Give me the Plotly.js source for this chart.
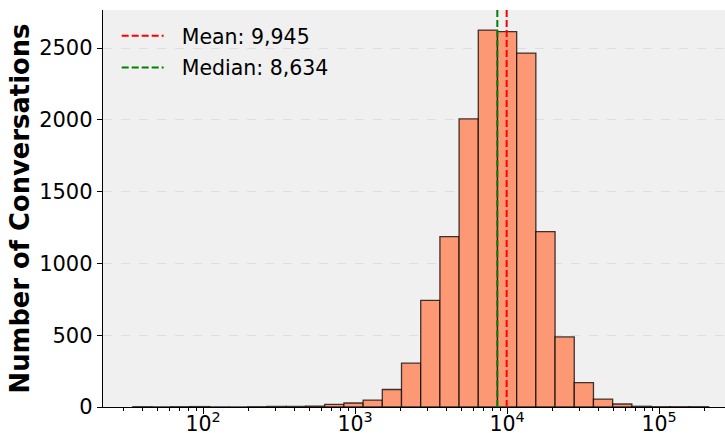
<!DOCTYPE html>
<html>
<head>
<meta charset="utf-8">
<script src="https://cdn.plot.ly/plotly-3.0.1.min.js"></script>
<style>html,body{margin:0;padding:0;background:#fff;}#chart{width:725px;height:433px;}</style>
</head>
<body>
<div id="chart"></div>
<script>
// Histogram of conversation lengths (log-spaced bins)
const binMin = 34.5;        // lower edge of first bin
const binMax = 212000;      // upper edge of last bin
const counts = [2, 1, 2, 3, 1, 0, 2, 4, 4, 6, 18, 28, 48, 122, 305, 743, 1187, 2007, 2625, 2615, 2465, 1222, 488, 170, 55, 21, 5, 2, 2, 2];
const meanValue = 9945;
const medianValue = 8634;
const yTickVals = [0, 500, 1000, 1500, 2000, 2500];
const xMajorDecades = [2, 3, 4, 5];
const yTop = 2765;

const nBins = counts.length;
const lo = Math.log10(binMin), hi = Math.log10(binMax);
const step = (hi - lo) / nBins;
const centers = counts.map((_, i) => lo + step * (i + 0.5));

const minorVals = [];
for (let d = 1; d <= 5; d++) for (let k = 2; k <= 9; k++) minorVals.push(d + Math.log10(k));

const fmt = v => v.toLocaleString('en-US');

const traces = [
  {
    type: 'bar', x: centers, y: counts, width: step,
    marker: {color: 'rgb(253,152,117)', line: {color: 'rgba(0,0,0,0.75)', width: 1.3}},
    showlegend: false, hoverinfo: 'skip'
  },
  {
    type: 'scatter', mode: 'lines', name: '&nbsp;&nbsp;Mean: ' + fmt(meanValue), legendgroup: 'mean',
    x: [Math.log10(meanValue), Math.log10(meanValue)], y: [0, yTop],
    line: {color: 'red', width: 2, dash: '7px,3px'}
  },
  {
    type: 'scatter', mode: 'lines', name: '&nbsp;&nbsp;Median: ' + fmt(medianValue), legendgroup: 'median',
    x: [Math.log10(medianValue), Math.log10(medianValue)], y: [0, yTop],
    line: {color: 'green', width: 2, dash: '7px,3px'}
  }
];

const layout = {
  width: 725, height: 433,
  margin: {l: 103, r: 0, t: 10, b: 26, pad: 0},
  paper_bgcolor: '#ffffff', plot_bgcolor: '#f0f0f0',
  font: {family: 'DejaVu Sans', color: '#000', size: 20},
  bargap: 0,
  xaxis: {
    type: 'linear', range: [1.342, 5.434],
    tickmode: 'array', tickvals: xMajorDecades,
    ticktext: xMajorDecades.map(d => '10<sup>' + d + '</sup>'),
    ticks: 'outside', ticklen: 6, tickwidth: 1, tickcolor: '#000',
    tickfont: {size: 20.5}, ticklabelstandoff: -8,
    showgrid: false, zeroline: false,
    showline: true, linecolor: '#000', linewidth: 1.2,
    minor: {tickmode: 'array', tickvals: minorVals, ticks: 'outside', ticklen: 3, tickwidth: 1, tickcolor: '#000', showgrid: false}
  },
  yaxis: {
    range: [0, yTop], tickmode: 'array', tickvals: yTickVals,
    ticks: 'outside', ticklen: 5, tickwidth: 1, tickcolor: '#000',
    tickfont: {size: 21},
    showgrid: true, gridcolor: '#d9d9d9', griddash: 'dash', gridwidth: 0.8,
    zeroline: false, showline: true, linecolor: '#000', linewidth: 1.2,
    title: {text: '<b>Number of Conversations</b>', font: {size: 25.8}, standoff: 2}
  },
  legend: {
    x: 0.022, y: 0.985, xanchor: 'left', yanchor: 'top',
    bgcolor: 'rgba(0,0,0,0)', borderwidth: 0, font: {size: 20.5},
    itemwidth: 42, traceorder: 'grouped', tracegroupgap: 2
  },
  showlegend: true
};

Plotly.newPlot('chart', traces, layout, {displayModeBar: false, staticPlot: true});
</script>
</body>
</html>
